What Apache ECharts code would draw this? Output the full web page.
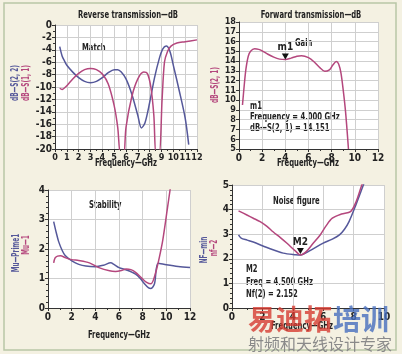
<!DOCTYPE html>
<html>
<head>
<meta charset="utf-8">
<script src="https://cdn.jsdelivr.net/npm/echarts@6/dist/echarts.min.js"></script>
<style>
html, body { margin: 0; padding: 0; background: #f4f1e2; }
#main { width: 402px; height: 354px; }
</style>
</head>
<body>
<div id="main"></div>
<script>
// panel 1: reverse transmission / match
var s22 = [[0.4,-3.5],[0.6,-5],[0.8,-5.8],[1,-6.5],[1.5,-7.6],[2,-8.5],[2.5,-9.1],[3,-9.3],[3.5,-9.1],[4,-8.5],[4.5,-7.7],[5,-7.2],[5.3,-7.2],[5.6,-7.6],[6,-8.7],[6.5,-11.2],[7,-14.6],[7.3,-16.6],[7.6,-15.8],[8,-12.5],[8.4,-8.6],[8.8,-5.5],[9.1,-3.9],[9.4,-3.4],[9.7,-4.2],[10,-6.5],[10.5,-10.6],[11,-15],[11.3,-19.3]];
var s11 = [[0.4,-10.2],[0.6,-10.4],[1,-9.8],[1.5,-8.7],[2,-7.8],[2.5,-7.2],[3,-7],[3.5,-7.2],[4,-7.9],[4.5,-9.5],[5,-13],[5.3,-16.5],[5.55,-21],[5.8,-21],[6,-16.5],[6.5,-11.5],[7,-8.7],[7.5,-7.6],[7.8,-7.8],[8.1,-10],[8.35,-14.5],[8.55,-21],[8.8,-21],[9.05,-12],[9.25,-6],[9.5,-4.3],[9.8,-3.4],[10.3,-2.9],[11,-2.7],[12,-2.4]];
// panel 2: forward transmission / gain
var s21 = [[0.3,9.5],[0.45,11.5],[0.6,13.2],[0.8,14.5],[1,15],[1.35,15.25],[1.7,15.2],[2,15.05],[2.5,14.7],[3,14.4],[3.5,14.2],[4,14.151],[4.5,14.3],[5,14.5],[5.4,14.55],[6,14.35],[6.5,13.9],[7,13.3],[7.4,12.95],[7.8,13.1],[8.1,13.6],[8.4,13.95],[8.6,13.7],[8.8,12.8],[9,11],[9.2,8.8],[9.45,5]];
// panel 3: stability
var muPrime1 = [[0.48,2.93],[0.7,2.55],[0.9,2.25],[1.2,1.95],[1.45,1.78],[2.05,1.59],[2.6,1.48],[3.2,1.42],[4,1.4],[4.7,1.45],[5.3,1.53],[5.6,1.47],[6,1.37],[6.7,1.28],[7.4,1.15],[7.8,1.0],[8.15,0.82],[8.5,0.68],[8.7,0.66],[9,0.82],[9.3,1.52],[10,1.47],[11,1.41],[12,1.37]];
var mu1 = [[0.48,1.53],[0.6,1.7],[0.8,1.76],[1.05,1.77],[1.5,1.7],[2,1.64],[2.6,1.61],[3.5,1.53],[4.3,1.37],[5.2,1.26],[5.7,1.24],[6.2,1.27],[6.6,1.32],[7,1.3],[7.4,1.21],[7.9,1.02],[8.3,0.88],[8.7,0.82],[9.1,1.2],[9.4,1.7],[9.7,2.3],[10.1,3.4],[10.35,4.1]];
// panel 4: noise figure
var nf2 = [[0.43,3.95],[0.98,3.78],[1.4,3.65],[1.85,3.51],[2.3,3.32],[2.7,3.1],[3.2,2.85],[3.6,2.64],[4.2,2.3],[4.5,2.152],[4.9,2.3],[5.3,2.6],[5.8,2.97],[6.2,3.35],[6.6,3.65],[7.2,3.82],[7.8,3.92],[8.15,4.3],[8.5,4.93],[8.6,5.1]];
var nfmin = [[0.43,2.97],[0.6,2.84],[1,2.76],[1.4,2.68],[2.3,2.46],[3.37,2.23],[4.2,2.16],[4.5,2.15],[5.1,2.32],[6,2.64],[6.6,2.8],[7.07,2.97],[7.4,3.2],[7.7,3.51],[8.15,4.19],[8.6,4.93],[8.7,5.1]];

var m1 = [4, 14.151];
var m2 = [4.5, 2.152];

var BLUE = "#55589a";
var PINK = "#b4477d";
var FONT = "'DejaVu Sans Condensed', sans-serif";

var chart = echarts.init(document.getElementById("main"));

function xAx(idx, max, interval, fs) {
    return {
        gridIndex: idx, type: 'value', min: 0, max: max, interval: interval,
        axisLine: { onZero: false, lineStyle: { color: "#333", width: 1 } },
        axisTick: { show: true, length: 3, lineStyle: { color: "#333" } },
        minorTick: { show: true, splitNumber: 2, length: 2, lineStyle: { color: "#333" } },
        axisLabel: { color: "#222", fontFamily: FONT, fontWeight: 'bold', fontSize: fs, margin: 4,
            showMinLabel: true, showMaxLabel: true, hideOverlap: false },
        splitLine: { show: true, lineStyle: { color: "#cfcfcf", width: 1 } }
    };
}
function yAx(idx, min, max, interval, minorSplit, fs) {
    return {
        gridIndex: idx, type: 'value', min: min, max: max, interval: interval,
        axisLine: { show: true, onZero: false, lineStyle: { color: "#333", width: 1 } },
        axisTick: { show: true, length: 3, lineStyle: { color: "#333" } },
        minorTick: { show: minorSplit > 1, splitNumber: minorSplit, length: 2, lineStyle: { color: "#333" } },
        axisLabel: { color: "#222", fontFamily: FONT, fontWeight: 'bold', fontSize: fs, margin: 3, lineHeight: fs,
            showMinLabel: true, showMaxLabel: true, hideOverlap: false },
        splitLine: { show: true, lineStyle: { color: "#cfcfcf", width: 1 } }
    };
}
function line(name, xi, data, color) {
    return {
        name: name, type: 'line', xAxisIndex: xi, yAxisIndex: xi, data: data,
        showSymbol: false, smooth: 0.3, clip: true,
        lineStyle: { color: color, width: 1.5 }, itemStyle: { color: color }
    };
}
// condensed look: squeeze the text horizontally
function txt(x, y, s, opts) {
    var st = { text: s, fill: "#222", font: "bold 10px " + FONT, textVerticalAlign: 'middle' };
    for (var k in opts) st[k] = opts[k];
    return { type: 'text', x: x, y: y, scaleX: 0.76, style: st };
}
function vtxt(x, y, s, color) {
    return { type: 'text', x: x, y: y, rotation: Math.PI / 2, scaleX: 0.64,
        style: { text: s, fill: color, font: "bold 10px " + FONT, textAlign: 'center', textVerticalAlign: 'middle' } };
}
function marker(label) {
    return {
        symbol: 'triangle', symbolSize: [7, 6], symbolRotate: 180, symbolOffset: [0, -3],
        itemStyle: { color: "#111" },
        label: { show: true, position: 'top', distance: 1, formatter: label, color: "#222", fontFamily: FONT, fontWeight: 'bold', fontSize: 10 }
    };
}

var s21Series = line('dB S(2,1)', 1, s21, PINK);
s21Series.markPoint = marker('m1');
s21Series.markPoint.data = [{ coord: m1 }];
var nfSeries = line('nf(2)', 3, nf2, PINK);
nfSeries.markPoint = marker('M2');
nfSeries.markPoint.symbolOffset = [0, -4];
nfSeries.markPoint.data = [{ coord: m2 }];

var option = {
    backgroundColor: "#f4f1e2",
    animation: false,
    grid: [
        { left: 55, top: 25, width: 142, height: 124, show: true, backgroundColor: "#fff", borderWidth: 0 },
        { left: 239, top: 22, width: 139, height: 127, show: true, backgroundColor: "#fff", borderWidth: 0 },
        { left: 48, top: 190, width: 142, height: 118, show: true, backgroundColor: "#fff", borderWidth: 0 },
        { left: 232, top: 185, width: 152, height: 123, show: true, backgroundColor: "#fff", borderWidth: 0 }
    ],
    xAxis: [xAx(0, 12, 1, 9), xAx(1, 12, 2, 10), xAx(2, 12, 2, 10), xAx(3, 10, 2, 10)],
    yAxis: [yAx(0, -20, 0, 2, 2, 10), yAx(1, 5, 18, 1, 1, 9), yAx(2, 0, 4, 1, 5, 10), yAx(3, 0, 5, 1, 5, 10)],
    series: [
        line('dB S(2,2)', 0, s22, BLUE),
        line('dB S(1,1)', 0, s11, PINK),
        s21Series,
        line('Mu Prime1', 2, muPrime1, BLUE),
        line('Mu 1', 2, mu1, PINK),
        line('NFmin', 3, nfmin, BLUE),
        nfSeries
    ],
    graphic: [
        { type: 'rect', shape: { x: 4, y: 3, width: 392, height: 347 }, style: { fill: 'none', stroke: "#b8c6a6", lineWidth: 1.5 }, z: -1 },
        txt(128, 15, "Reverse transmission\u2014dB", { textAlign: 'center' }),
        txt(82, 48, "Match"),
        vtxt(15, 83, "dB\u2014S(2, 2)", BLUE),
        vtxt(26, 83, "dB\u2014S(1, 1)", PINK),
        txt(126, 163, "Frequency\u2014GHz", { textAlign: 'center' }),

        txt(311, 15, "Forward transmission\u2014dB", { textAlign: 'center' }),
        txt(295, 43, "Gain"),
        vtxt(215, 85, "dB\u2014S(2, 1)", PINK),
        txt(250, 106, "m1"),
        txt(250, 117, "Frequency = 4.000 GHz"),
        txt(250, 128, "dB\u2014S(2, 1) = 14.151"),
        txt(308, 163, "Frequency\u2014GHz", { textAlign: 'center' }),

        txt(89, 205, "Stability"),
        vtxt(16, 253, "Mu\u2014Prime1", BLUE),
        vtxt(26, 245, "Mu\u20141", PINK),
        txt(119, 335, "Frequency\u2014GHz", { textAlign: 'center' }),

        txt(273, 201, "Noise figure"),
        vtxt(204, 250, "NF\u2014min", BLUE),
        vtxt(214, 248, "nf\u20142", PINK),
        txt(246, 269, "M2"),
        txt(246, 282, "Freq = 4.500 GHz"),
        txt(246, 294, "Nf(2) = 2.152"),
        txt(302, 326, "Frequency\u2014GHz", { textAlign: 'center' }),

        { type: 'text', x: 248, y: 305, z: 10, style: { text: "\u6613\u8fea\u62d3", fill: "rgba(214,60,50,0.8)", font: "bold 28px 'Noto Sans CJK SC', sans-serif" } },
        { type: 'text', x: 333, y: 305, z: 10, style: { text: "\u57f9\u8bad", fill: "rgba(70,110,190,0.8)", font: "bold 28px 'Noto Sans CJK SC', sans-serif" } },
        { type: 'text', x: 248, y: 336, z: 10, style: { text: "\u5c04\u9891\u548c\u5929\u7ebf\u8bbe\u8ba1\u4e13\u5bb6", fill: "#8a8a8a", font: "16px 'Noto Sans CJK SC', sans-serif" } }
    ]
};
chart.setOption(option);
</script>
</body>
</html>
